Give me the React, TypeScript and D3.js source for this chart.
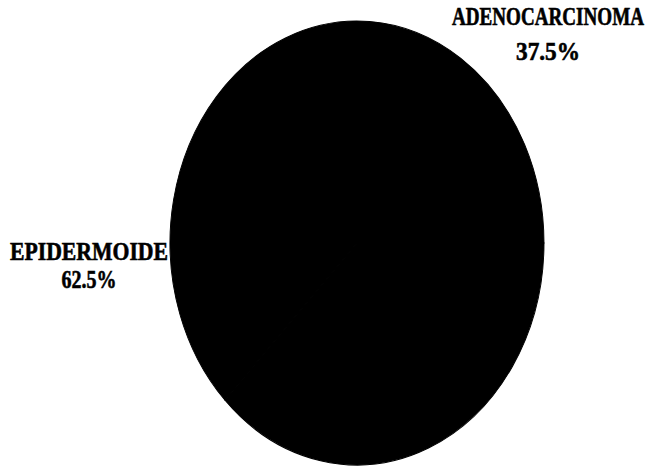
import React, { useLayoutEffect, useRef, useState } from "react";
import * as d3 from "d3";

const categories = ["EPIDERMOIDE", "ADENOCARCINOMA"];
const percents = [62.5, 37.5];
const percentLabels = ["62.5%", "37.5%"];

const W = 661;
const H = 466;
const cx = 357;
const cy = 243;
const rx = 187;
const ry = 222;
const R = 100;

// label placement: [x center, name baseline, value baseline, name width, value width]
const labelPos = [
  { x: 89, y1: 260, y2: 288, w1: 158, w2: 55 },
  { x: 548, y1: 25, y2: 60, w1: 192, w2: 64 },
];

function FitText({ x, y, width, children }: { x: number; y: number; width: number; children: string }) {
  const ref = useRef<SVGTextElement>(null);
  const [sx, setSx] = useState(0.8);
  useLayoutEffect(() => {
    if (ref.current) {
      const w = ref.current.getComputedTextLength();
      if (w > 0) setSx(width / w);
    }
  }, [width, children]);
  return (
    <g transform={`translate(${x},${y}) scale(${sx},1)`}>
      <text ref={ref} x={0} y={0} textAnchor="middle">
        {children}
      </text>
    </g>
  );
}

export default function App() {
  const pie = d3
    .pie<number>()
    .sort(null)
    .startAngle(Math.PI * 2 * 0.625)
    .endAngle(Math.PI * 2 * 1.625);
  const arcs = pie(percents);
  const arc = d3.arc<d3.PieArcDatum<number>>().innerRadius(0).outerRadius(R);

  return (
    <svg
      width={W}
      height={H}
      style={{ position: "absolute", left: 0, top: 0, background: "#fff" }}
    >
      <g transform={`translate(${cx},${cy}) scale(${rx / R},${ry / R})`}>
        {arcs.map((a, i) => (
          <path key={categories[i]} d={arc(a) || ""} fill="#000" stroke="#000" strokeWidth={0.5} />
        ))}
      </g>
      {categories.map((c, i) => (
        <g
          key={c}
          fontFamily="'Liberation Serif', 'Times New Roman', serif"
          fontWeight="bold"
          fontSize={25}
          fill="#000"
          stroke="#000"
          strokeWidth={0.6}
        >
          <FitText x={labelPos[i].x} y={labelPos[i].y1} width={labelPos[i].w1}>
            {c}
          </FitText>
          <FitText x={labelPos[i].x} y={labelPos[i].y2} width={labelPos[i].w2}>
            {percentLabels[i]}
          </FitText>
        </g>
      ))}
    </svg>
  );
}
